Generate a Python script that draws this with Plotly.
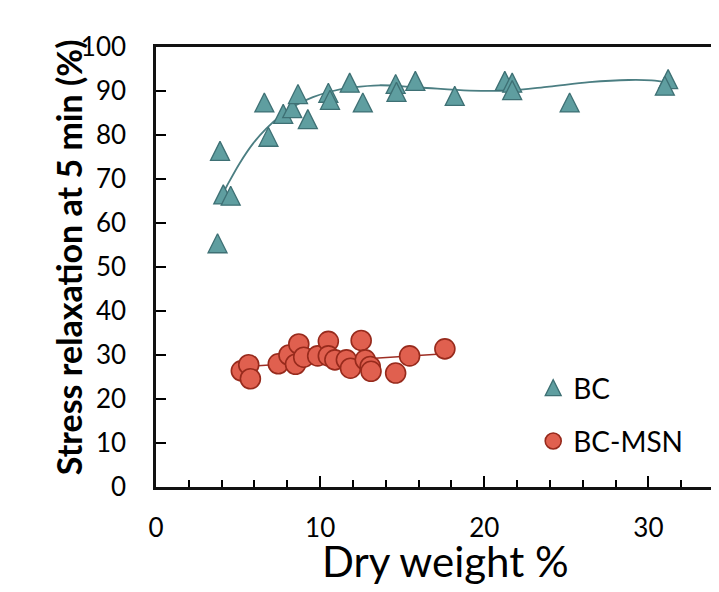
import plotly.graph_objects as go

# ---- data ----
bc_x = [3.75, 3.9, 4.1, 4.55, 6.6, 6.85, 7.75, 8.3, 8.65, 9.25, 10.5, 10.6,
        11.8, 12.6, 14.6, 14.65, 15.8, 18.2, 21.25, 21.7, 21.7, 25.2, 31.2, 31.0]
bc_y = [55.4, 76.4, 66.5, 66.2, 87.4, 79.6, 84.8, 86.1, 89.3, 83.6, 89.6, 88.0,
        91.9, 87.4, 91.6, 89.8, 92.3, 88.9, 92.3, 91.9, 90.2, 87.4, 92.7, 91.2]

msn_x = [5.2, 5.65, 5.75, 7.45, 8.1, 8.5, 8.7, 9.0, 9.85, 10.5, 10.5, 10.9,
         11.6, 11.85, 12.5, 12.75, 13.05, 13.1, 14.6, 15.45, 17.6]
msn_y = [26.4, 27.8, 24.6, 28.0, 30.0, 27.9, 32.5, 29.5, 29.8, 33.1, 29.8, 28.9,
         28.9, 27.0, 33.3, 28.9, 27.4, 26.3, 25.9, 29.8, 31.4]

# trendlines as drawn in the reference
bc_trend_x = [3.9, 4.3, 5.1, 5.92, 6.73, 7.54, 8.55, 9.56, 10.78, 11.99, 13.6,
              16.05, 19.1, 21.5, 23.95, 26.4, 28.8, 30.2, 31.2]
bc_trend_y = [65.5, 68.3, 73.6, 78.1, 81.5, 84.2, 86.8, 88.6, 90.0, 90.8, 91.3,
              90.8, 90.1, 90.1, 91.0, 92.0, 92.5, 92.4, 91.9]
msn_trend_x = [5.2, 17.6]
msn_trend_y = [27.3, 30.3]

x_tickvals = [0, 10, 20, 30]
y_tickvals = [0, 10, 20, 30, 40, 50, 60, 70, 80, 90, 100]

series_names = ["BC", "BC-MSN"]
x_title = "Dry weight %"
y_title = "Stress relaxation at 5 min (%)"

FONT = "Lato"
TEAL = "#5F9EA0"
TEAL_EDGE = "#3E7074"
TEAL_LINE = "#4B7E82"
RED = "#E0604F"
RED_EDGE = "#972A1C"
RED_LINE = "#9E2E24"

fig = go.Figure()
fig.add_trace(go.Scatter(x=bc_trend_x, y=bc_trend_y, mode="lines", showlegend=False,
                         line=dict(color=TEAL_LINE, width=1.8, shape="spline"),
                         hoverinfo="skip"))
fig.add_trace(go.Scatter(x=msn_trend_x, y=msn_trend_y, mode="lines", showlegend=False,
                         line=dict(color=RED_LINE, width=1.5), hoverinfo="skip"))
# BC points (centred, equilateral-looking triangles)
fig.add_trace(go.Scatter(
    x=bc_x, y=bc_y, mode="markers", name=series_names[0], showlegend=False,
    marker=dict(symbol="arrow-down", angle=180, standoff=9.5, size=19,
                color=TEAL, line=dict(color=TEAL_EDGE, width=1.3))))
# legend entry for BC (legend draws the symbol centred with this setting)
fig.add_trace(go.Scatter(
    x=[None], y=[None], mode="markers", name=series_names[0], legendgroup="a",
    marker=dict(symbol="arrow-up", standoff=8, size=16,
                color=TEAL, line=dict(color=TEAL_EDGE, width=1.3))))
fig.add_trace(go.Scatter(
    x=msn_x, y=msn_y, mode="markers", name=series_names[1], legendgroup="b",
    marker=dict(symbol="circle", size=20, color=RED,
                line=dict(color=RED_EDGE, width=1.6))))

fig.update_layout(
    width=711, height=584,
    margin=dict(l=148, r=0, t=39, b=105),
    paper_bgcolor="white", plot_bgcolor="white",
    font=dict(family=FONT, color="black", size=26),
    showlegend=True,
    legend=dict(x=0.670, y=0.282, xanchor="left", yanchor="top",
                bgcolor="rgba(0,0,0,0)", font=dict(size=28, family=FONT),
                traceorder="grouped", tracegroupgap=14),
    xaxis=dict(range=[0, 34.3], tickvals=x_tickvals, ticks="inside", ticklen=11,
               tickwidth=1.5, tickcolor="black",
               minor=dict(dtick=2, tick0=0, ticks="inside", ticklen=7,
                          tickwidth=1.5, tickcolor="black", showgrid=False),
               showline=True, linewidth=2.5, linecolor="#111", mirror=True,
               showgrid=False, zeroline=False, automargin=False,
               tickfont=dict(size=26, family=FONT), ticklabelstandoff=16),
    yaxis=dict(range=[0, 100], tickvals=y_tickvals, ticks="inside", ticklen=10,
               tickwidth=1.5, tickcolor="black",
               showline=True, linewidth=2.5, linecolor="#111",
               showgrid=False, zeroline=False, automargin=False,
               tickfont=dict(size=26, family=FONT), ticklabelstandoff=22),
    annotations=[
        dict(text=x_title, xref="paper", yref="paper", x=0.514, y=-0.168,
             xanchor="center", yanchor="middle", showarrow=False,
             font=dict(size=42, family=FONT, color="black")),
        dict(text="<b>" + y_title + "</b>", xref="paper", yref="paper",
             x=-0.155, y=0.5216, xanchor="center", yanchor="middle",
             textangle=-90, showarrow=False,
             font=dict(size=34, family=FONT, color="black")),
    ],
)

fig.write_html("out.html")
